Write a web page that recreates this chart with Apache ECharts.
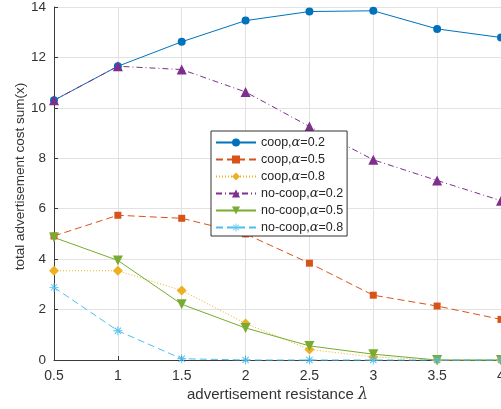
<!DOCTYPE html>
<html>
<head>
<meta charset="utf-8">
<script src="https://cdn.jsdelivr.net/npm/echarts@6/dist/echarts.min.js"></script>
<style>
  html, body { margin: 0; padding: 0; background: #fff; }
  #chart { width: 501px; height: 409px; }
</style>
</head>
<body>
<div id="chart"></div>
<script>
// advertisement resistance (lambda)
var lambdas = [0.5, 1, 1.5, 2, 2.5, 3, 3.5, 4];
var xTicks = ['0.5', '1', '1.5', '2', '2.5', '3', '3.5', '4'];

// total advertisement cost sum(x)
var coop02   = [10.3, 11.65, 12.62, 13.46, 13.82, 13.85, 13.13, 12.79];
var coop05   = [4.92, 5.74, 5.62, 5.0, 3.84, 2.57, 2.14, 1.61];
var coop08   = [3.54, 3.54, 2.76, 1.45, 0.42, 0.12, 0.0, 0.0];
var nocoop02 = [10.3, 11.65, 11.52, 10.63, 9.26, 7.94, 7.12, 6.32];
var nocoop05 = [4.86, 3.95, 2.21, 1.27, 0.56, 0.23, 0.0, 0.0];
var nocoop08 = [2.88, 1.16, 0.05, 0.0, 0.0, 0.0, 0.0, 0.0];

var names = ['coop,α=0.2', 'coop,α=0.5', 'coop,α=0.8',
             'no-coop,α=0.2', 'no-coop,α=0.5', 'no-coop,α=0.8'];

// asterisk marker built from a plus and a cross
var asterisk = 'path://M-5,-0.5L5,-0.5L5,0.5L-5,0.5Z' +
  'M-0.5,-5L0.5,-5L0.5,5L-0.5,5Z' +
  'M-3.15,-3.85L3.85,3.15L3.15,3.85L-3.85,-3.15Z' +
  'M-3.15,3.85L3.85,-3.15L3.15,-3.85L-3.85,3.15Z';

function pairs(arr) {
  return arr.map(function (v, i) { return [lambdas[i], v]; });
}

function mkSeries(name, data, color, dash, symbol, size) {
  return {
    name: name,
    type: 'line',
    data: pairs(data),
    symbol: symbol,
    symbolSize: size,
    showAllSymbol: true,
    clip: false,
    lineStyle: { color: color, width: 1, type: dash },
    itemStyle: { color: color, borderWidth: 0 },
    emphasis: { disabled: true }
  };
}

var chart = echarts.init(document.getElementById('chart'), null, { renderer: 'canvas' });

chart.setOption({
  animation: false,
  backgroundColor: '#ffffff',
  textStyle: { fontFamily: 'Liberation Sans, Arial, sans-serif' },
  grid: { left: 54, top: 7, width: 447, height: 353, containLabel: false, outerBoundsMode: 'none' },
  xAxis: {
    type: 'value',
    min: 0.5,
    max: 4,
    interval: 0.5,
    name: 'advertisement resistance {l|λ}',
    nameLocation: 'middle',
    nameGap: 27,
    nameMoveOverlap: false,
    nameTextStyle: {
      fontSize: 15, color: '#333',
      rich: { l: { fontSize: 16, fontStyle: 'italic', fontFamily: 'DejaVu Serif, serif', color: '#333' } }
    },
    axisLine: { show: true, lineStyle: { color: '#3a3a3a', width: 1 } },
    axisTick: { show: true, inside: true, length: 4, lineStyle: { color: '#3a3a3a' } },
    axisLabel: {
      fontSize: 14, color: '#333', margin: 9,
      alignMinLabel: 'center', alignMaxLabel: 'center',
      formatter: function (v) {
        var i = lambdas.indexOf(v);
        return i >= 0 ? xTicks[i] : '';
      }
    },
    splitLine: { show: true, lineStyle: { color: '#e2e2e2', width: 1 } }
  },
  yAxis: {
    type: 'value',
    min: 0,
    max: 14,
    interval: 2,
    name: 'total advertisement cost sum(x)',
    nameLocation: 'middle',
    nameGap: 27,
    nameMoveOverlap: false,
    nameTextStyle: { fontSize: 13.5, color: '#333', padding: [0, 0, 0, 14] },
    axisLine: { show: true, lineStyle: { color: '#3a3a3a', width: 1 } },
    axisTick: { show: true, inside: true, length: 4, lineStyle: { color: '#3a3a3a' } },
    axisLabel: { fontSize: 13.5, color: '#333', margin: 8 },
    splitLine: { show: true, lineStyle: { color: '#e2e2e2', width: 1 } }
  },
  legend: {
    orient: 'vertical',
    left: 211,
    top: 131,
    data: names,
    itemWidth: 40,
    itemHeight: 10,
    itemGap: 4,
    padding: [5, 4, 2, 4],
    backgroundColor: '#ffffff',
    borderColor: '#333',
    borderWidth: 1,
    borderRadius: 0,
    selectedMode: false,
    formatter: function (name) {
      return name.replace('α', '{g|α}');
    },
    textStyle: {
      fontSize: 12.5, color: '#262626',
      rich: { g: { fontSize: 13, fontStyle: 'italic', fontFamily: 'DejaVu Serif, serif', color: '#262626' } }
    }
  },
  series: [
    mkSeries(names[0], coop02,   '#0072BD', 'solid',       'circle',       8),
    mkSeries(names[1], coop05,   '#D95319', [7, 4],        'rect',         7),
    mkSeries(names[2], coop08,   '#EDB120', [1, 2],        'diamond',      10),
    mkSeries(names[3], nocoop02, '#7E2F8E', [6, 3, 1, 3],  'triangle',     10),
    mkSeries(names[4], nocoop05, '#77AC30', 'solid',       'path://M-5,-4L5,-4L0,5Z', 10),
    mkSeries(names[5], nocoop08, '#4DBEEE', [7, 4],        asterisk,       9)
  ]
});
</script>
</body>
</html>
